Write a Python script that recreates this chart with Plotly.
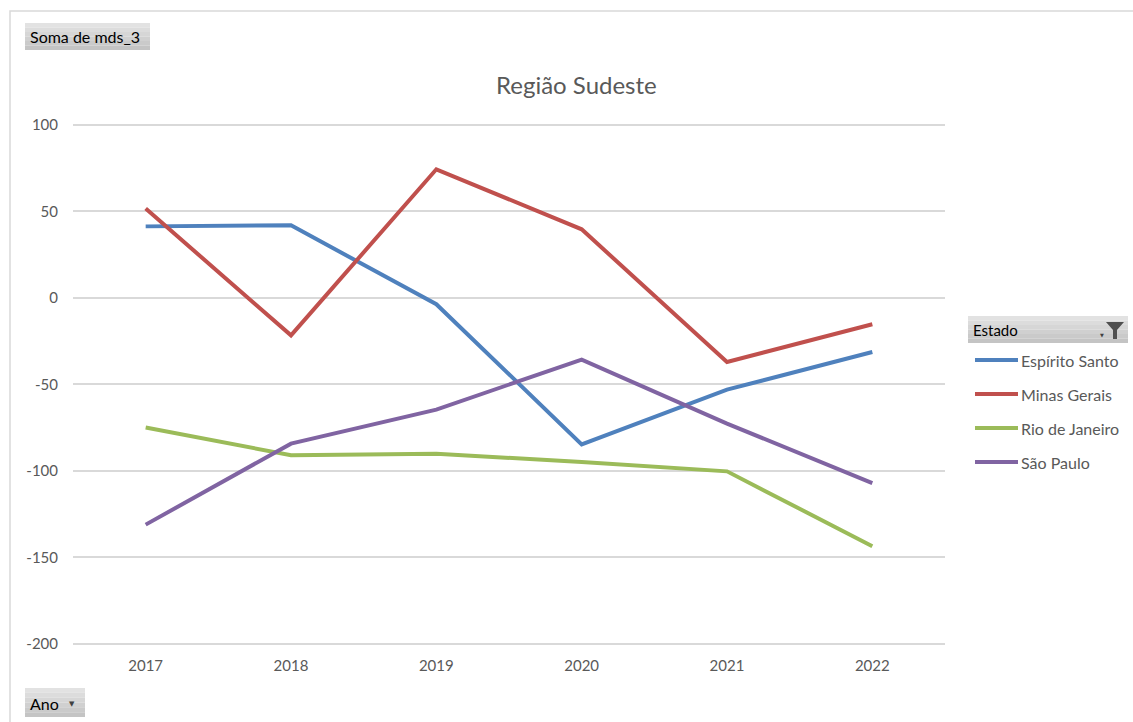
import plotly.graph_objects as go

W, H = 1133, 722

years = ["2017", "2018", "2019", "2020", "2021", "2022"]
states = ["Espírito Santo", "Minas Gerais", "Rio de Janeiro", "São Paulo"]
espirito_santo = [41.4, 42.0, -3.6, -84.6, -53.0, -31.2]
minas_gerais = [51.7, -21.6, 74.4, 39.7, -37.0, -15.2]
rio_de_janeiro = [-74.9, -90.9, -90.0, -94.8, -100.2, -143.5]
sao_paulo = [-131.0, -84.2, -64.5, -35.6, -72.6, -107.0]
series = [espirito_santo, minas_gerais, rio_de_janeiro, sao_paulo]
colors = ["#4F81BD", "#C0504D", "#9BBB59", "#8064A2"]
y_ticks = [-200, -150, -100, -50, 0, 50, 100]
y_tick_text = ["-200", "-150", "-100", "-50", "0", "50", "100"]

FONT = "Lato, 'DejaVu Sans', sans-serif"
GRAY_TXT = "#595959"


def X(px):
    return px / W


def Y(py):
    return 1 - py / H


fig = go.Figure()
for name, vals, col in zip(states, series, colors):
    fig.add_trace(go.Scatter(
        x=years, y=vals, mode="lines", name=name,
        line=dict(color=col, width=4), showlegend=False,
        hoverinfo="x+y+name",
    ))

shapes = []
annotations = []

# outer chart border
shapes.append(dict(type="rect", xref="paper", yref="paper",
                   x0=X(10), x1=X(1160), y0=Y(11), y1=Y(760),
                   line=dict(color="#D9D9D9", width=1.5), fillcolor="rgba(0,0,0,0)",
                   layer="below"))


def button(x0, y0, x1, y1):
    n = 6
    c_top = (226, 226, 226)
    c_bot = (196, 196, 196)
    for i in range(n):
        t = i / (n - 1)
        c = tuple(int(c_top[k] + (c_bot[k] - c_top[k]) * t) for k in range(3))
        ya = y0 + (y1 - y0) * i / n
        yb = y0 + (y1 - y0) * (i + 1) / n
        shapes.append(dict(type="rect", xref="paper", yref="paper",
                           x0=X(x0), x1=X(x1), y0=Y(ya), y1=Y(yb),
                           line=dict(width=0), fillcolor="rgb(%d,%d,%d)" % c,
                           layer="below"))


button(25, 23, 150, 50)
annotations.append(dict(text="Soma de mds_3", xref="paper", yref="paper",
                        x=X(28), y=Y(37), xanchor="left", yanchor="middle",
                        showarrow=False, font=dict(family=FONT, size=16, color="#000000")))

button(25, 688, 85, 717)
annotations.append(dict(text="Ano", xref="paper", yref="paper",
                        x=X(28), y=Y(703), xanchor="left", yanchor="middle",
                        showarrow=False, font=dict(family=FONT, size=16, color="#000000")))
annotations.append(dict(text="▼", xref="paper", yref="paper",
                        x=X(72), y=Y(704), xanchor="center", yanchor="middle",
                        showarrow=False, font=dict(family="DejaVu Sans", size=7, color="#404040")))

button(968, 316, 1128, 343)
annotations.append(dict(text="Estado", xref="paper", yref="paper",
                        x=X(971), y=Y(330), xanchor="left", yanchor="middle",
                        showarrow=False, font=dict(family=FONT, size=15, color="#000000")))
annotations.append(dict(text="▼", xref="paper", yref="paper",
                        x=X(1102), y=Y(335), xanchor="center", yanchor="middle",
                        showarrow=False, font=dict(family="DejaVu Sans", size=5, color="#404040")))
shapes.append(dict(type="path", xref="paper", yref="paper",
                   path="M %f %f L %f %f L %f %f L %f %f L %f %f L %f %f Z" % (
                       X(1106), Y(322), X(1124), Y(322), X(1117), Y(330),
                       X(1117), Y(339), X(1113), Y(339), X(1113), Y(330)),
                   fillcolor="#505050", line=dict(width=0)))

leg_y = [360, 394, 428, 462]
for name, col, ly in zip(states, colors, leg_y):
    shapes.append(dict(type="line", xref="paper", yref="paper",
                       x0=X(975), x1=X(1018), y0=Y(ly), y1=Y(ly),
                       line=dict(color=col, width=4)))
    annotations.append(dict(text=name, xref="paper", yref="paper",
                            x=X(1019), y=Y(ly), xanchor="left", yanchor="middle",
                            showarrow=False, font=dict(family=FONT, size=16, color=GRAY_TXT)))

annotations.append(dict(text="Região Sudeste", xref="paper", yref="paper",
                        x=X(577), y=Y(85), xanchor="center", yanchor="middle",
                        showarrow=False, font=dict(family=FONT, size=24, color=GRAY_TXT)))

# y range padded slightly so edge gridlines (100, -200) are drawn
PAD = 1.5
PXU = 519 / 300.0
top_px = 125 - PAD * PXU
bot_px = 644 + PAD * PXU

fig.update_layout(
    template="none",
    width=W, height=H, autosize=False,
    margin=dict(l=0, r=0, t=0, b=0, pad=0, autoexpand=False),
    paper_bgcolor="white", plot_bgcolor="white",
    shapes=shapes, annotations=annotations,
    xaxis=dict(
        domain=[X(73), X(945)], type="category", range=[-0.5, 5.5],
        showgrid=False, zeroline=False, showline=False, ticks="",
        tickfont=dict(family=FONT, size=15, color=GRAY_TXT),
        ticklabelstandoff=8, automargin=False,
    ),
    yaxis=dict(
        domain=[Y(bot_px), Y(top_px)], range=[-200 - PAD, 100 + PAD],
        tickvals=y_ticks, ticktext=y_tick_text,
        showgrid=True, gridcolor="#D9D9D9", gridwidth=1.5,
        zeroline=False, showline=False, ticks="",
        tickfont=dict(family=FONT, size=15, color=GRAY_TXT),
        ticklabelstandoff=14, automargin=False,
    ),
    showlegend=False,
)

fig.write_html("out.html")
